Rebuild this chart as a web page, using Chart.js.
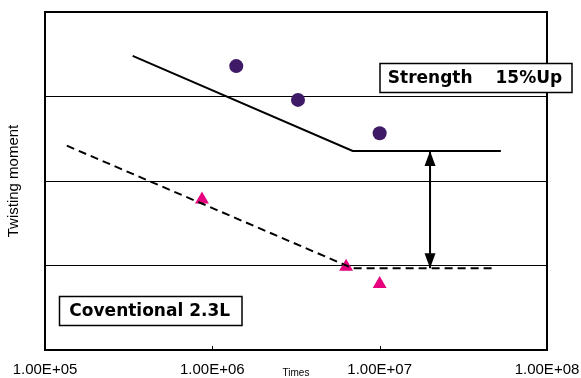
<!DOCTYPE html>
<html>
<head>
<meta charset="utf-8">
<script src="https://cdn.jsdelivr.net/npm/chart.js@4/dist/chart.umd.min.js"></script>
<style>
  html, body { margin: 0; padding: 0; background: #fff; }
  #wrap { width: 581px; height: 378px; }
</style>
</head>
<body>
<div id="wrap"><canvas id="chart"></canvas></div>
<script>
// tick values on the x axis (log)
var xTicks = [1e5, 1e6, 1e7, 1e8];

// new design, fitted line and test points
var newLineX = [3.34e5, 6.9e6, 5.3e7];
var newLineY = [3.48, 2.355, 2.355];
var newPtsX = [1.39e6, 3.25e6, 1.0e7];
var newPtsY = [3.36, 2.96, 2.565];

// conventional 2.3L, fitted line and test points
var oldLineX = [1.35e5, 6.9e6, 4.86e7];
var oldLineY = [2.418, 0.967, 0.967];
var oldPtsX = [8.67e5, 6.3e6, 1.0e7];
var oldPtsY = [1.78, 0.985, 0.78];

// double arrow between the two fatigue limits
var arrowX = [2.0e7, 2.0e7];
var arrowY = [2.355, 0.967];

var labelNew = 'Strength\u3000 15%Up';
var labelOld = 'Coventional 2.3L';

function pts(xs, ys) {
  return xs.map(function (x, i) { return {x: x, y: ys[i]}; });
}

function fmtExp(v) {
  var e = Math.round(Math.log10(v));
  var m = v / Math.pow(10, e);
  return m.toFixed(2) + 'E+' + (e < 10 ? '0' : '') + e;
}

var framePlugin = {
  id: 'frame',
  afterDatasetsDraw: function (chart) {
    var ctx = chart.ctx, a = chart.chartArea;
    var xs = chart.scales.x;
    ctx.save();
    ctx.strokeStyle = '#000';
    ctx.lineWidth = 2;
    ctx.strokeRect(a.left, a.top, a.right - a.left, a.bottom - a.top);
    // small inner ticks on the bottom axis
    ctx.lineWidth = 1;
    xTicks.slice(1, -1).forEach(function (v) {
      var px = Math.round(xs.getPixelForValue(v)) + 0.5;
      ctx.beginPath();
      ctx.moveTo(px, a.bottom);
      ctx.lineTo(px, a.bottom - 4);
      ctx.stroke();
    });

    // arrow heads on the arrow dataset
    var meta = chart.getDatasetMeta(2);
    var p0 = meta.data[0], p1 = meta.data[1];
    ctx.fillStyle = '#000';
    function head(tip, dir) {
      ctx.beginPath();
      ctx.moveTo(tip.x, tip.y);
      ctx.lineTo(tip.x - 5.5, tip.y + dir * 15);
      ctx.lineTo(tip.x + 5.5, tip.y + dir * 15);
      ctx.closePath();
      ctx.fill();
    }
    head(p0, 1);
    head(p1, -1);

    // label boxes
    function box(text, x0, y0, x1, y1) {
      ctx.fillStyle = '#fff';
      ctx.fillRect(x0, y0, x1 - x0, y1 - y0);
      ctx.lineWidth = 1.5;
      ctx.strokeStyle = '#000';
      ctx.strokeRect(x0, y0, x1 - x0, y1 - y0);
      ctx.fillStyle = '#000';
      ctx.font = 'bold 17px "DejaVu Sans", sans-serif';
      ctx.textAlign = 'center';
      ctx.textBaseline = 'middle';
      ctx.fillText(text, (x0 + x1) / 2 - 1, (y0 + y1) / 2 + 1);
    }
    box(labelNew, 380, 63.5, 572, 92.5);
    box(labelOld, 59.5, 296.5, 242, 325.5);
    ctx.restore();
  }
};

new Chart(document.getElementById('chart'), {
  type: 'scatter',
  data: {
    datasets: [
      {
        data: pts(newLineX, newLineY),
        showLine: true,
        borderColor: '#000',
        borderWidth: 2,
        pointRadius: 0
      },
      {
        data: pts(oldLineX, oldLineY),
        showLine: true,
        borderColor: '#000',
        borderWidth: 2,
        borderDash: [8, 5],
        pointRadius: 0
      },
      {
        data: pts(arrowX, arrowY),
        showLine: true,
        borderColor: '#000',
        borderWidth: 2,
        pointRadius: 0
      },
      {
        data: pts(newPtsX, newPtsY),
        pointStyle: 'circle',
        pointRadius: 7,
        borderWidth: 0,
        backgroundColor: '#3f1a66'
      },
      {
        data: pts(oldPtsX, oldPtsY),
        pointStyle: 'triangle',
        pointRadius: 8,
        borderWidth: 0,
        backgroundColor: '#e6007e'
      }
    ]
  },
  options: {
    responsive: true,
    maintainAspectRatio: false,
    animation: false,
    layout: { padding: { top: 12, right: 34, left: 0, bottom: 0 } },
    plugins: {
      legend: { display: false },
      tooltip: { enabled: false }
    },
    scales: {
      x: {
        type: 'logarithmic',
        min: 1e5,
        max: 1e8,
        afterBuildTicks: function (s) {
          s.ticks = xTicks.map(function (v) { return {value: v}; });
        },
        afterFit: function (s) {
          s.height = 28;
          s.paddingLeft = 0;
          s.paddingRight = 0;
        },
        grid: { display: false, drawTicks: false },
        border: { display: false },
        ticks: {
          autoSkip: false,
          maxRotation: 0,
          padding: 11,
          color: '#000',
          font: { family: '"Liberation Sans", Arial, sans-serif', size: 15 },
          callback: function (v) { return fmtExp(v); }
        },
        title: {
          display: true,
          text: 'Times',
          color: '#000',
          padding: { top: 0, bottom: -1 },
          font: { family: '"Liberation Sans", Arial, sans-serif', size: 10 }
        }
      },
      y: {
        min: 0,
        max: 4,
        afterFit: function (s) { s.width = 45; },
        ticks: { stepSize: 1, display: false },
        grid: { color: '#000', lineWidth: 1, drawTicks: false },
        border: { display: false },
        title: {
          display: true,
          text: 'Twisting moment',
          color: '#000',
          padding: { top: 5, bottom: 0 },
          font: { family: '"Liberation Sans", Arial, sans-serif', size: 15 }
        }
      }
    }
  },
  plugins: [framePlugin]
});
</script>
</body>
</html>
